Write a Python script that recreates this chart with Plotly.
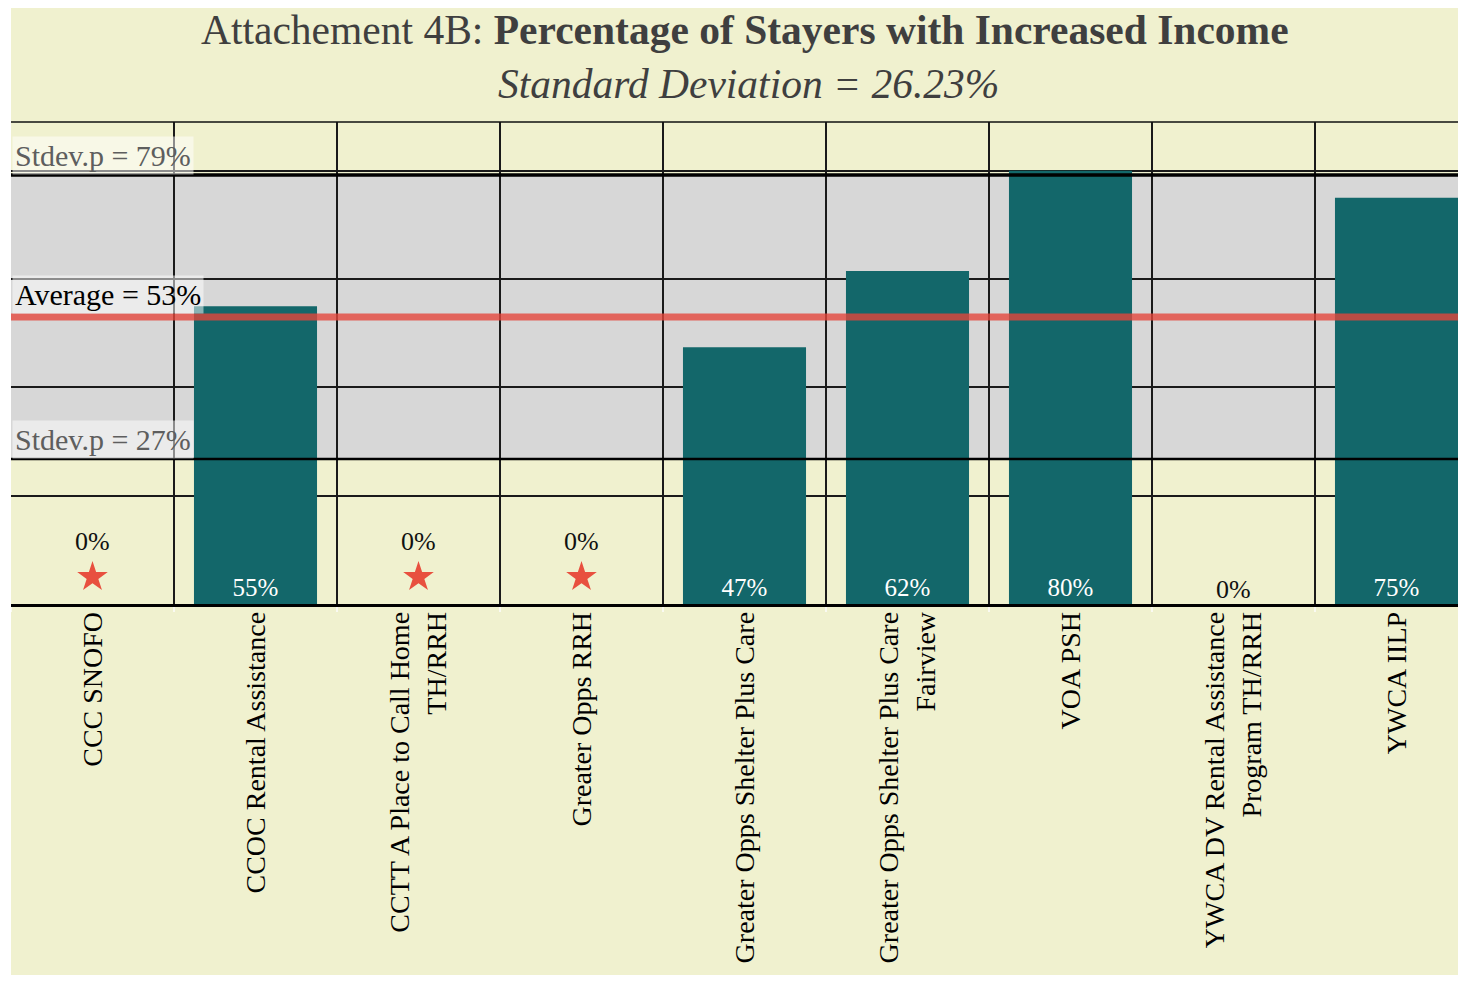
import plotly.graph_objects as go

categories = [
    "CCC SNOFO",
    "CCOC Rental Assistance",
    "CCTT A Place to Call Home<br>TH/RRH",
    "Greater Opps RRH",
    "Greater Opps Shelter Plus Care",
    "Greater Opps Shelter Plus Care<br>Fairview",
    "VOA PSH",
    "YWCA DV Rental Assistance<br>Program TH/RRH",
    "YWCA IILP",
]
values = [0, 55, 0, 0, 47.4, 61.5, 80, 0, 75]
flagged = [True, False, True, True, False, False, False, False, False]
average = 53
stdev = 26.23
y_ticks = [0, 20, 40, 60, 80]
y_max = 89

upper = average + stdev
lower = average - stdev

FONT = "Liberation Serif"
BG = "#F0F1CF"
BAR = "#13676A"

W, H = 1458, 967
ML, MR, MT, MB = 3, 0, 114, 371
plot_w = W - ML - MR
plot_h = H - MT - MB
cat_px = 163
STAR_OFFSET_PX = 27

fig = go.Figure()

bar_text = [f"{v:.0f}%" if v > 0 else "" for v in values]
fig.add_trace(go.Bar(
    x=categories, y=values, width=0.755,
    marker=dict(color=BAR, line=dict(width=0)),
    text=bar_text, textposition="inside", insidetextanchor="start",
    textangle=0, textfont=dict(family=FONT, size=25, color="white"),
    hoverinfo="skip", showlegend=False,
))

# stars for flagged zero-value programs (offset above the baseline)
star_x = [c for c, v, f in zip(categories, values, flagged) if v == 0 and f]
star_y = [STAR_OFFSET_PX * y_max / plot_h for _ in star_x]
fig.add_trace(go.Scatter(
    x=star_x, y=star_y, mode="markers",
    marker=dict(symbol="star", size=23, color="#E8503F", line=dict(width=0)),
    cliponaxis=False, hoverinfo="skip", showlegend=False,
))

annotations = []
for cat, v, f in zip(categories, values, flagged):
    if v == 0:
        annotations.append(dict(x=cat, y=0, xref="x", yref="y", text="0%",
                                showarrow=False, yanchor="middle",
                                yshift=63 if f else 15,
                                font=dict(family=FONT, size=26, color="#111111")))

# reference line labels
for yv, label, col in [
    (upper, f"Stdev.p = {round(upper)}%", "#5E5E5E"),
    (average, f"Average = {round(average)}%", "#000000"),
    (lower, f"Stdev.p = {round(lower)}%", "#5E5E5E"),
]:
    annotations.append(dict(x=0, xref="paper", y=yv, yref="y", text=label,
                            showarrow=False, xanchor="left", yanchor="bottom",
                            yshift=0 if yv != average else 3,
                            xshift=1,
                            bgcolor="rgba(255,255,255,0.5)", borderpad=2,
                            font=dict(family=FONT, size=30, color=col)))

# titles
annotations.append(dict(x=(737 - ML) / plot_w, xref="paper", y=(MT + plot_h - 22) / plot_h, yref="paper",
                        text="Attachement 4B: <b>Percentage of Stayers with Increased Income</b>",
                        showarrow=False, xanchor="center", yanchor="middle",
                        font=dict(family=FONT, size=41.5, color="#3F3F3F")))
annotations.append(dict(x=(740 - ML) / plot_w, xref="paper", y=(MT + plot_h - 76) / plot_h, yref="paper",
                        text="<i>Standard Deviation = 26.23%</i>",
                        showarrow=False, xanchor="center", yanchor="middle",
                        font=dict(family=FONT, size=41.5, color="#3F3F3F")))

shapes = [
    dict(type="rect", xref="paper", yref="y", x0=0, x1=1, y0=lower, y1=upper,
         fillcolor="#D7D7D7", line=dict(width=0), layer="below"),
    dict(type="line", xref="paper", yref="y", x0=0, x1=1, y0=upper, y1=upper,
         line=dict(color="#000000", width=3.5), layer="above"),
    dict(type="line", xref="paper", yref="y", x0=0, x1=1, y0=lower, y1=lower,
         line=dict(color="#000000", width=2.5), layer="above"),
    dict(type="line", xref="paper", yref="y", x0=0, x1=1, y0=average, y1=average,
         line=dict(color="rgba(228,69,58,0.79)", width=7), layer="above"),
    dict(type="line", xref="paper", yref="paper", x0=0, x1=1, y0=1, y1=1,
         line=dict(color="#111111", width=1.5), layer="above"),
    dict(type="rect", xref="paper", yref="paper", x0=-ML / plot_w, x1=0,
         y0=-MB / plot_h - 0.1, y1=1 + MT / plot_h + 0.1,
         fillcolor="white", line=dict(width=0), layer="above"),
]

fig.update_layout(
    width=W, height=H,
    margin=dict(l=ML, r=MR, t=MT, b=MB, pad=0),
    paper_bgcolor=BG, plot_bgcolor=BG,
    showlegend=False,
    annotations=annotations,
    shapes=shapes,
    xaxis=dict(
        range=[-0.5, -0.5 + plot_w / cat_px],
        tickangle=-90,
        tickfont=dict(family=FONT, size=28, color="#000000"),
        tickson="boundaries",
        ticklabelstandoff=-6,
        showgrid=True, gridcolor="#1A1A1A", gridwidth=1.5,
        showline=True, linecolor="#000000", linewidth=2.5,
        ticks="outside", ticklen=5, tickcolor="#FAFAF2", tickwidth=2,
        fixedrange=True,
    ),
    yaxis=dict(
        range=[0, y_max],
        tickvals=y_ticks,
        showticklabels=False,
        showgrid=True, gridcolor="#1A1A1A", gridwidth=1.5,
        zeroline=False,
        showline=True, linecolor="#111111", linewidth=1.5,
        fixedrange=True,
    ),
)

fig.write_html("out.html")
